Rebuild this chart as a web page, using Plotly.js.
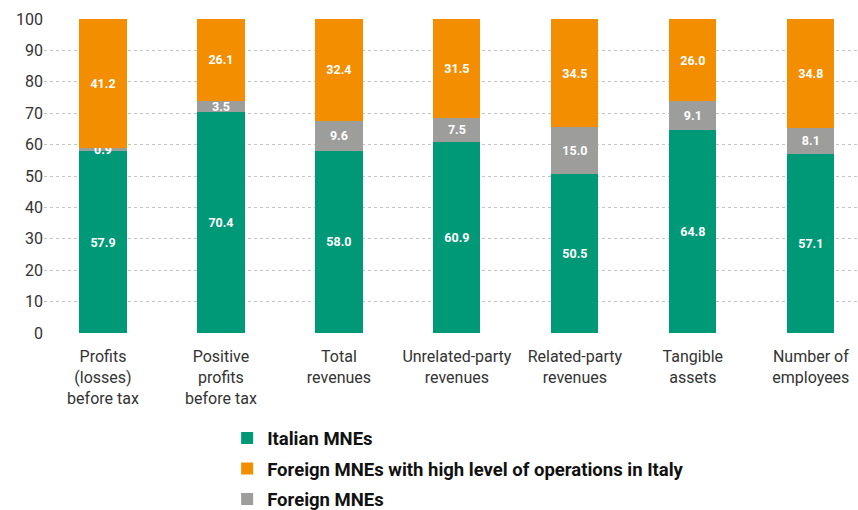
<!DOCTYPE html>
<html><head><meta charset="utf-8">
<script src="https://cdn.plot.ly/plotly-3.0.1.min.js"></script>
<style>body{margin:0;background:#fff}#c{width:858px;height:510px}</style>
</head><body><div id="c"></div>
<script>
const categories = ["Profits<br>(losses)<br>before tax","Positive<br>profits<br>before tax","Total<br>revenues","Unrelated-party<br>revenues","Related-party<br>revenues","Tangible<br>assets","Number of<br>employees"];
const italianMNEs = [57.9, 70.4, 58.0, 60.9, 50.5, 64.8, 57.1];
const foreignMNEs = [0.9, 3.5, 9.6, 7.5, 15.0, 9.1, 8.1];
const foreignHighOps = [41.2, 26.1, 32.4, 31.5, 34.5, 26.0, 34.8];
const yTicks = [0,10,20,30,40,50,60,70,80,90,100];

const FONT = "Roboto, 'DejaVu Sans Condensed', sans-serif";
const txtFont = {family: FONT, size: 12.5, color: '#ffffff', weight: 'bold'};
function mk(name, vals, color, rank){
  return {type:'bar', name:name, x:categories, y:vals, width:0.4,
    marker:{color:color, line:{width:0}},
    text: vals.map(v=>v.toFixed(1)), textposition:'inside', insidetextanchor:'middle',
    constraintext:'none', textfont:txtFont, hoverinfo:'skip', legendrank:rank, legendgroup:'g'+rank, cliponaxis:false};
}
const data = [
  mk('Italian MNEs', italianMNEs, '#009977', 1),
  mk('Foreign MNEs', foreignMNEs, '#9d9d9b', 3),
  mk('Foreign MNEs with high level of operations in Italy', foreignHighOps, '#f28e00', 2)
];
const layout = {
  width:858, height:510, barmode:'stack',
  margin:{l:44, r:0, t:19, b:177, autoexpand:false},
  paper_bgcolor:'#fff', plot_bgcolor:'#fff',
  font:{family:FONT, color:'#333'},
  xaxis:{range:[-0.5,6.4], showgrid:false, zeroline:false, showline:false, ticks:'',
    ticklabelstandoff:12,
    tickfont:{family:FONT, size:16, color:'#333'}, fixedrange:true},
  yaxis:{range:[0,100], tickvals:yTicks, showgrid:true, gridcolor:'#c4c4c4', griddash:'dot', gridwidth:1,
    zeroline:false, showline:false, ticks:'', tickfont:{family:FONT, size:16, color:'#333'}, fixedrange:true},
  showlegend:true,
  legend:{orientation:'v', x:0.225, xanchor:'left', y:-0.275, yanchor:'top', tracegroupgap:3.5,
    font:{family:FONT, size:18.5, color:'#111', weight:'bold'}, traceorder:'grouped', itemwidth:30, bgcolor:'rgba(0,0,0,0)'},
  bargap:0.6
};
Plotly.newPlot('c', data, layout, {displayModeBar:false, staticPlot:true});
</script></body></html>
